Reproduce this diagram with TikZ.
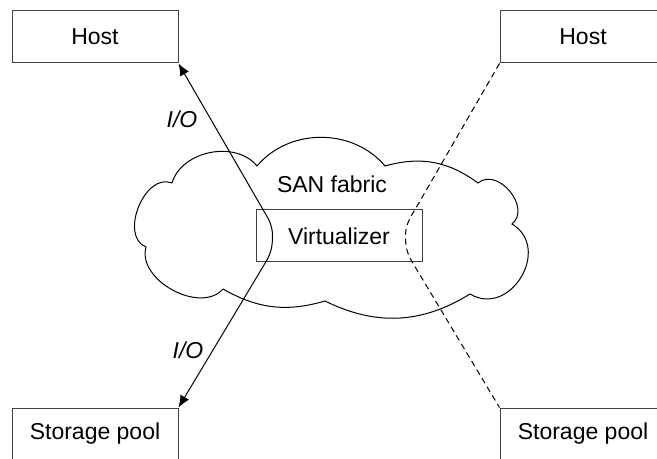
\documentclass[tikz,border=0pt]{standalone}
\usepackage{fontspec}
\setmainfont{Liberation Sans}
\usetikzlibrary{calc,positioning,arrows.meta}

\begin{document}
\begin{tikzpicture}[x=0.5pt,y=0.5pt,
  every node/.style={font=\fontsize{11.5}{14}\selectfont},
  unit/.style={draw=black!75,line width=0.5pt,minimum width=83pt,minimum height=26pt,inner sep=0pt},
  io/.style={font=\fontsize{11.5}{14}\selectfont\itshape},
  link/.style={line width=0.5pt},
  tip/.style={{Latex[length=6pt,width=5pt]}-{Latex[length=6pt,width=5pt]}}]
\useasboundingbox (0,0) rectangle (657,-459);
% SAN cloud
\draw[link] (172,-183) to[bend left=62] (257,-166) to[bend left=50] (385,-166)
  to[bend left=26] (478,-183) to[bend left=90,looseness=1.23] (512,-224)
  to[bend left=90,looseness=1.47] (470,-294) to[bend left=29] (325,-301)
  to[bend left=23] (223,-289) to[bend left=77] (146,-247)
  to[bend left=90,looseness=1.09] (172,-183);
\node (fabric) at (332,-184) {SAN fabric};
% hosts, pools, virtualizer
\node[unit] (hostL) at (95,-37) {Host};
\node[unit] (hostR) at (583,-37) {Host};
\node[unit] (poolL) at (95,-434) {Storage pool};
\node[unit] (poolR) at (583,-434) {Storage pool};
\node[unit] (virt) at (339,-236) {Virtualizer};
\node[io] (ioUp) at (182,-119) {I/O};
\node[io] (ioDown) at (188,-350) {I/O};
% I/O paths
\draw[link,tip] (hostL.south east) -- ($(virt.west)+(6,29)$) to[out=-60,in=90] ($(virt.west)+(17,0)$)
  to[out=-90,in=59] ($(virt.south west)+(10,0)$) -- (poolL.north east);
\draw[link,dash pattern=on 3pt off 2pt] (hostR.south west) -- ($(virt.east)+(-6,29)$) to[out=-120,in=90] ($(virt.east)+(-17,0)$)
  to[out=-90,in=121] ($(virt.south east)+(-10,0)$) -- (poolR.north west);
\end{tikzpicture}
\end{document}
